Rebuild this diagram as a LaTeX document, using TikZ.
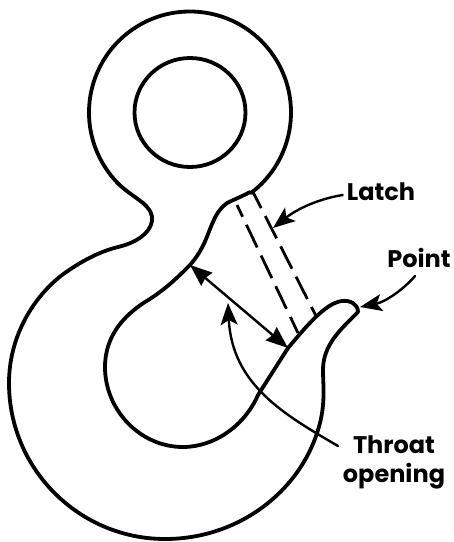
\documentclass[tikz,border=0pt]{standalone}
\usepackage{fontspec}
\setmainfont{Poppins}
\usetikzlibrary{arrows.meta}
\tikzset{
  hookline/.style={line width=3.8pt,line join=round,line cap=round},
  leader/.style={line width=2.4pt,line cap=round},
  latchdash/.style={line width=2.8pt},
  headtip/.style={-{Stealth[length=22pt,width=17pt,inset=5pt]}},
  label/.style={font=\fontsize{24}{29}\selectfont\bfseries,inner sep=0pt,align=center}
}
\begin{document}
\begin{tikzpicture}[x=1pt,y=1pt]
\useasboundingbox (0,0) rectangle (454,-542);
\coordinate (centre) at (190,-112.5);
% inner eye
\draw[hookline] (centre) circle[x radius=55.5,y radius=54.5];
% hook outline
\draw[hookline] (centre) ++(-53:101) arc[start angle=-53,end angle=220.6,radius=101]
  .. controls (122,-189) and (133,-195) .. (143,-203)
  .. controls (150,-209) and (153,-215) .. (152,-221)
  .. controls (150,-234) and (135,-243) .. (118,-247)
  .. controls (98,-252) and (80,-262) .. (62,-275)
  .. controls (30,-300) and (9,-340) .. (9,-383)
  .. controls (9,-470) and (80,-539) .. (165,-539)
  .. controls (240,-539) and (300,-490) .. (318,-430)
  .. controls (326,-405) and (323,-385) .. (323,-370)
  .. controls (323,-345) and (340,-330) .. (358,-312)
  .. controls (358,-304) and (350,-300) .. (342,-301)
  .. controls (325,-303) and (305,-328) .. (288,-348)
  -- (258,-395)
  .. controls (245,-425) and (215,-447) .. (183,-447)
  .. controls (140,-447) and (105,-410) .. (105,-367)
  .. controls (105,-335) and (125,-315) .. (145,-302)
  .. controls (165,-290) and (178,-277) .. (190,-265)
  .. controls (205,-248) and (208,-232) .. (213,-222)
  .. controls (217,-212) and (222,-207) .. (227,-203)
  .. controls (235,-199) and (243,-196) .. (250,-192);
% latch
\coordinate (latchAa) at (237,-205);
\coordinate (latchAb) at (298,-333);
\coordinate (latchBa) at (253,-192);
\coordinate (latchBb) at (316,-316);
\draw[latchdash,dash pattern=on 25pt off 9pt,dash phase=12pt] (latchAa) -- (latchAb);
\draw[latchdash,dash pattern=on 25pt off 9pt,dash phase=7pt] (latchBa) -- (latchBb);
% labels
\node[label] (latch) at (381,-192) {Latch};
\node[label] (point) at (419,-258) {Point};
\node[label] (throat) at (394,-462) {Throat\\opening};
% leaders
\coordinate (latchtip) at (273,-228);
\coordinate (pointtip) at (360,-307);
\coordinate (throatup) at (190,-265);
\coordinate (throatdown) at (288,-348);
\coordinate (throattip) at (228,-303);
\coordinate (throatstart) at (338,-446);
\coordinate (pointstart) at (415,-276);
\draw[leader,headtip] (latch.west) ++(-4,-3) .. controls (318,-199) and (297,-209) .. (latchtip);
\draw[leader,headtip] (pointstart) .. controls (403,-290) and (385,-302) .. (pointtip);
\draw[leader,{Stealth[length=22pt,width=17pt,inset=2pt]}-{Stealth[length=22pt,width=17pt,inset=2pt]}] (throatup) -- (throatdown);
\draw[leader,headtip] (throatstart) .. controls (285,-415) and (232,-385) .. (throattip);
\end{tikzpicture}
\end{document}
